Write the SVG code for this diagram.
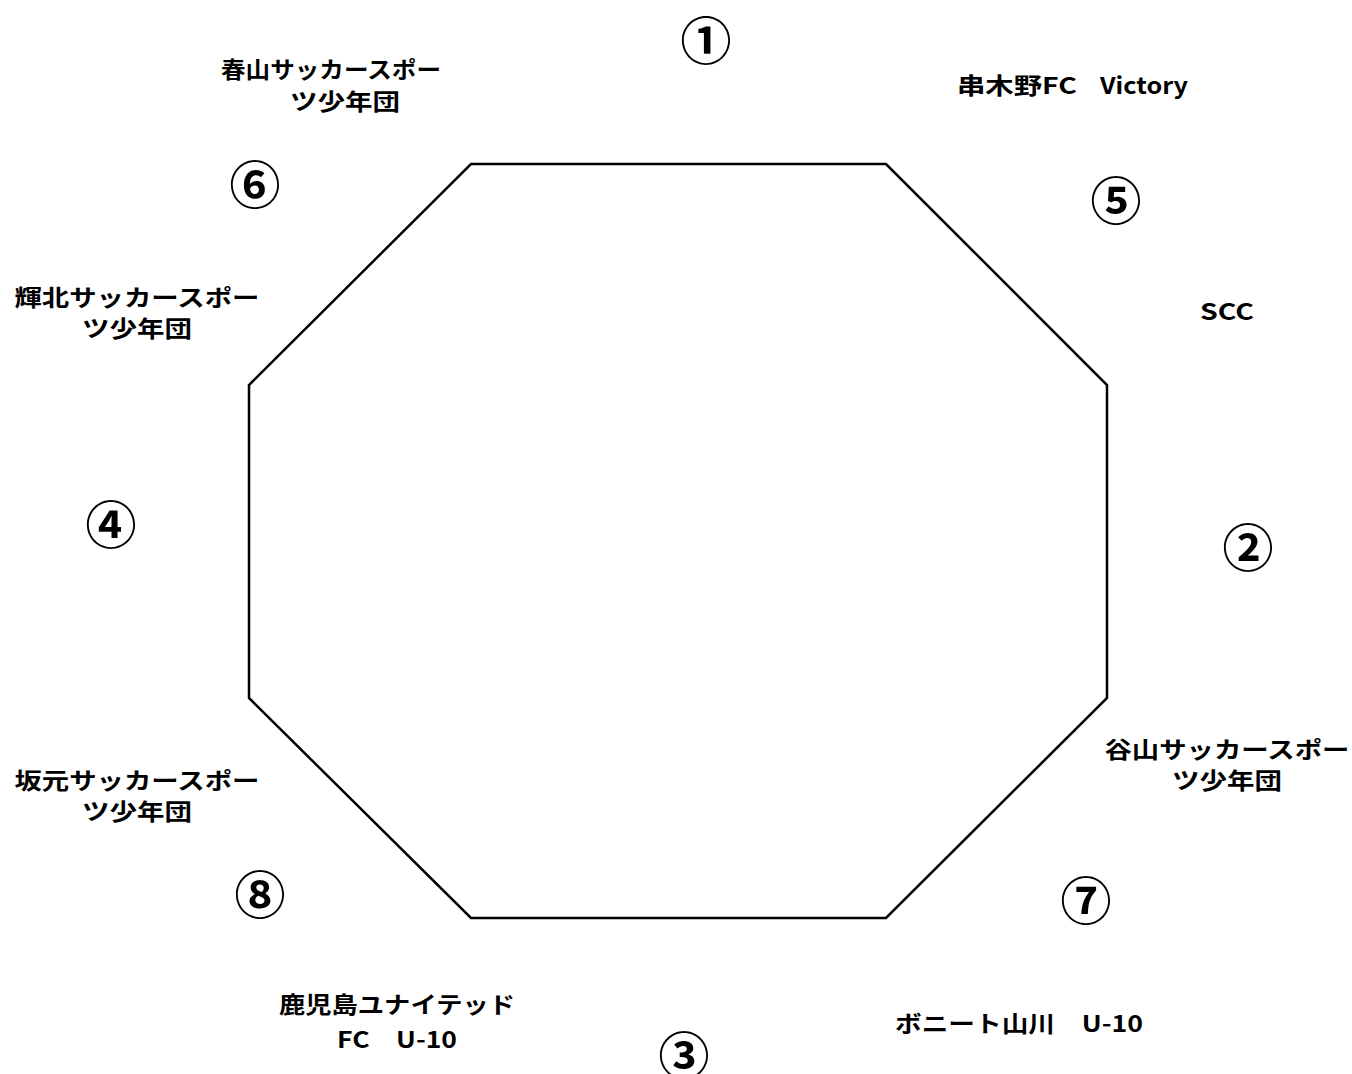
<svg xmlns="http://www.w3.org/2000/svg" width="1352" height="1074" viewBox="0 0 1352 1074">
<style>
.t{font-family:"Noto Sans CJK JP","Liberation Sans",sans-serif;font-weight:bold;font-size:23px;fill:#000;text-anchor:middle;dominant-baseline:central}
.n{font-family:"Noto Sans CJK JP","Liberation Sans",sans-serif;font-weight:bold;font-size:51px;fill:#000;text-anchor:middle;dominant-baseline:central}
</style>
<rect width="1352" height="1074" fill="#fff"/>
<g id="octagon">
<polygon points="471,164 886,164 1107,385 1107,698 886,918 471,918 249,698 249,385" fill="none" stroke="#000" stroke-width="2.5"/>
</g>
<g id="connectors"></g>
<g id="n1"><text class="n" x="706" y="38">①</text></g>
<g id="n2"><text class="n" x="1248" y="545">②</text></g>
<g id="n3"><text class="n" x="684" y="1053">③</text></g>
<g id="n4"><text class="n" x="111" y="522">④</text></g>
<g id="n5"><text class="n" x="1116" y="198">⑤</text></g>
<g id="n6"><text class="n" x="255" y="182">⑥</text></g>
<g id="n7"><text class="n" x="1086" y="898">⑦</text></g>
<g id="n8"><text class="n" x="260" y="892">⑧</text></g>
<g id="team-haruyama">
<text class="t" x="331" y="68" textLength="220" lengthAdjust="spacingAndGlyphs">春山サッカースポー</text>
<text class="t" x="345" y="100" textLength="110" lengthAdjust="spacingAndGlyphs">ツ少年団</text>
</g>
<g id="team-kushikino">
<text class="t" y="84"><tspan x="1017" textLength="120" lengthAdjust="spacingAndGlyphs">串木野FC</tspan><tspan x="1144" textLength="88" lengthAdjust="spacingAndGlyphs">Victory</tspan></text>
</g>
<g id="team-scc">
<text class="t" x="1227" y="310" textLength="54" lengthAdjust="spacingAndGlyphs">SCC</text>
</g>
<g id="team-kihoku">
<text class="t" x="137" y="296" textLength="245" lengthAdjust="spacingAndGlyphs">輝北サッカースポー</text>
<text class="t" x="137" y="327" textLength="110" lengthAdjust="spacingAndGlyphs">ツ少年団</text>
</g>
<g id="team-taniyama">
<text class="t" x="1227" y="748" textLength="245" lengthAdjust="spacingAndGlyphs">谷山サッカースポー</text>
<text class="t" x="1227" y="779" textLength="110" lengthAdjust="spacingAndGlyphs">ツ少年団</text>
</g>
<g id="team-sakamoto">
<text class="t" x="137" y="779" textLength="245" lengthAdjust="spacingAndGlyphs">坂元サッカースポー</text>
<text class="t" x="137" y="810" textLength="110" lengthAdjust="spacingAndGlyphs">ツ少年団</text>
</g>
<g id="team-kagoshima">
<text class="t" x="397" y="1003" textLength="236" lengthAdjust="spacingAndGlyphs">鹿児島ユナイテッド</text>
<text class="t" x="397" y="1038" textLength="120" lengthAdjust="spacingAndGlyphs">FC　U-10</text>
</g>
<g id="team-bonito">
<text class="t" x="1019" y="1022" textLength="248" lengthAdjust="spacingAndGlyphs">ボニート山川　U-10</text>
</g>
</svg>
